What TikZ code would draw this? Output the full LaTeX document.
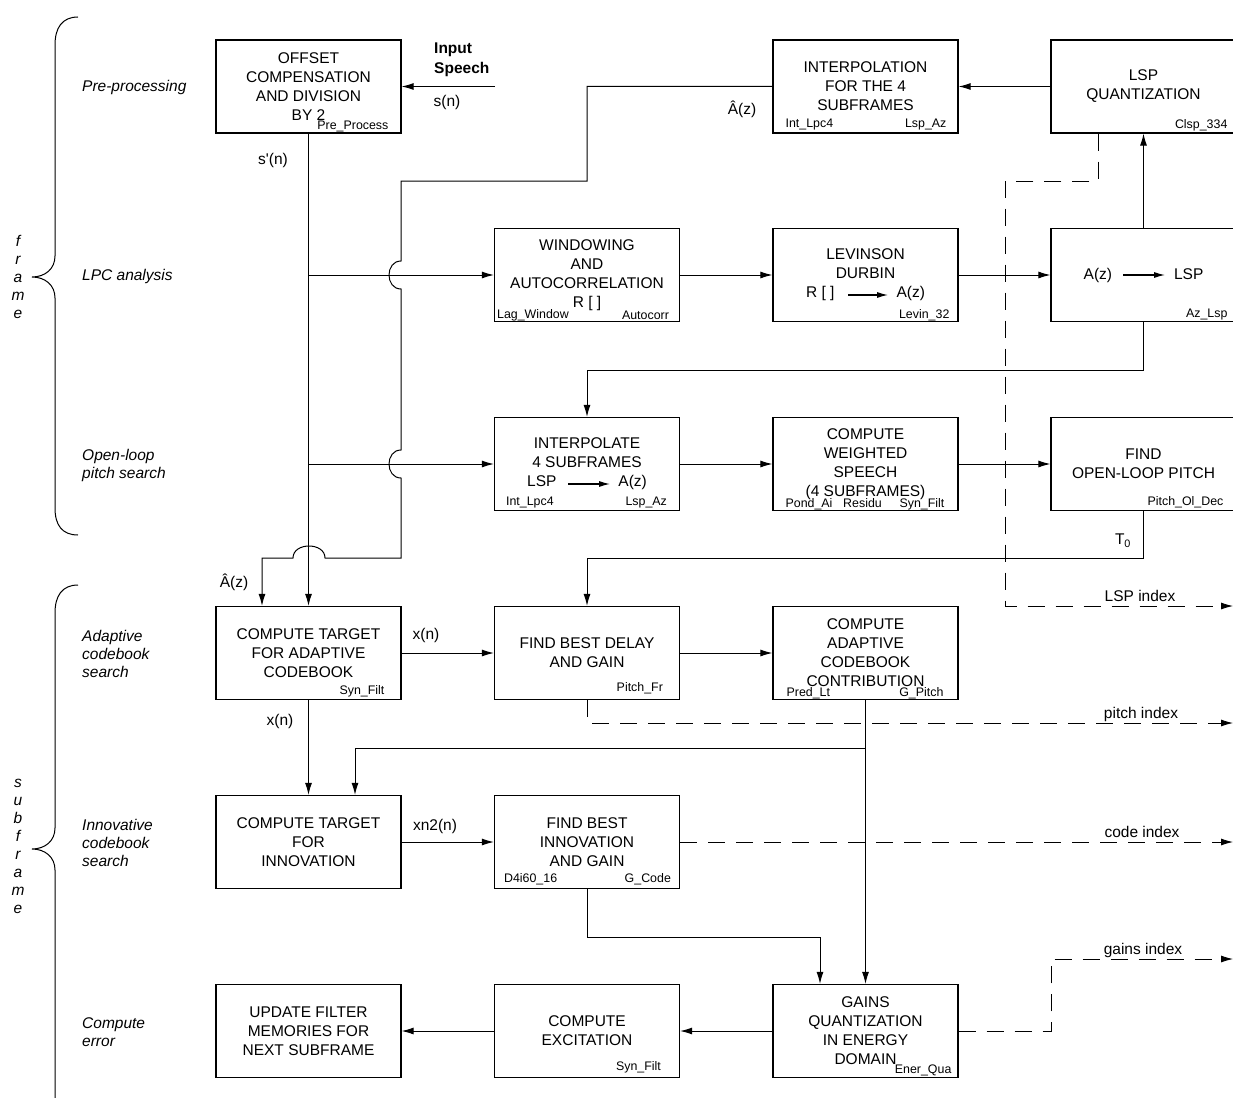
\documentclass[tikz,border=0pt]{standalone}
\usepackage{fontspec}
\setmainfont{Liberation Sans}
\usetikzlibrary{arrows.meta}

\begin{document}
\begin{tikzpicture}[x=1pt,y=-1pt,
  blk/.style={draw,line width=1.2pt,minimum width=185pt,minimum height=93pt,inner sep=0pt,align=center,font=\fontsize{15.5}{19}\selectfont},
  tag/.style={inner sep=0pt,font=\fontsize{12.4}{14}\selectfont},
  lbl/.style={inner sep=0pt,font=\fontsize{15.5}{19}\selectfont},
  side/.style={inner sep=0pt,align=left,font=\fontsize{15.5}{18}\selectfont\itshape},
  arr/.style={line width=1pt,-{Latex[length=12pt,width=7pt]}},
  inarr/.style={line width=1.1pt,-{Latex[length=11pt,width=6pt]}},
  dsh/.style={arr,line width=0.8pt,dash pattern=on 17pt off 11pt}]
  \useasboundingbox (0,0) rectangle (1233,1097);
  \clip (0,0) rectangle (1233,1097);

  % side labels and braces
  \draw[line width=1pt] (78,17) .. controls (62,17) and (55,28) .. (55,45) -- (55,256)
    .. controls (55,269) and (45,277) .. (32,277) .. controls (45,277) and (55,285) .. (55,298)
    -- (55,508) .. controls (55,525) and (62,535) .. (78,535);
  \draw[line width=1pt] (78,585) .. controls (62,585) and (55,596) .. (55,613) -- (55,828)
    .. controls (55,841) and (45,849) .. (32,849) .. controls (45,849) and (55,857) .. (55,870)
    -- (55,1120);
  \node[side,align=center] (frm) at (18,277) {f\\r\\a\\m\\e};
  \node[side,align=center] (sfrm) at (18,846) {s\\u\\b\\f\\r\\a\\m\\e};
  \node[side,anchor=west] (lpre) at (82,87) {Pre-processing};
  \node[side,anchor=west] (llpc) at (82,276) {LPC analysis};
  \node[side,anchor=west] (lolp) at (82,465) {Open-loop\\pitch search};
  \node[side,anchor=west] (lacb) at (82,654) {Adaptive\\codebook\\search};
  \node[side,anchor=west] (licb) at (82,843) {Innovative\\codebook\\search};
  \node[side,anchor=west] (lerr) at (82,1032) {Compute\\error};

  % blocks
  \node[blk] (pre) at (308.5,86.5) {OFFSET\\COMPENSATION\\AND DIVISION\\BY 2};
  \node[blk] (interp) at (865.5,86.5) {INTERPOLATION\\FOR THE 4\\SUBFRAMES};
  \node[blk] (lspq) at (1143.5,86.5) {LSP\\QUANTIZATION};
  \node[blk] (win) at (587,275) {WINDOWING\\AND\\AUTOCORRELATION\\R [ ]};
  \node[blk] (lev) at (865.5,275) {LEVINSON\\DURBIN\\R [ ]\hspace{62pt}A(z)};
  \node[blk] (azlsp) at (1143.5,275) {A(z)\hspace{62pt}LSP};
  \node[blk] (intlsp) at (587,464) {INTERPOLATE\\4 SUBFRAMES\\LSP\hspace{62pt}A(z)};
  \node[blk] (wsp) at (865.5,464) {COMPUTE\\WEIGHTED\\SPEECH\\(4 SUBFRAMES)};
  \node[blk] (olp) at (1143.5,464) {FIND\\OPEN-LOOP PITCH};
  \node[blk] (tgta) at (308.5,653) {COMPUTE TARGET\\FOR ADAPTIVE\\CODEBOOK};
  \node[blk] (delay) at (587,653) {FIND BEST DELAY\\AND GAIN};
  \node[blk] (acb) at (865.5,653) {COMPUTE\\ADAPTIVE\\CODEBOOK\\CONTRIBUTION};
  \node[blk] (tgti) at (308.5,842) {COMPUTE TARGET\\FOR\\INNOVATION};
  \node[blk] (inno) at (587,842) {FIND BEST\\INNOVATION\\AND GAIN};
  \node[blk] (upd) at (308.5,1031) {UPDATE FILTER\\MEMORIES FOR\\NEXT SUBFRAME};
  \node[blk] (exc) at (587,1031) {COMPUTE\\EXCITATION};
  \node[blk] (gain) at (865.5,1031) {GAINS\\QUANTIZATION\\IN ENERGY\\DOMAIN};

  \draw[inarr] ([xshift=-17.5pt,yshift=-20pt]lev.center) -- ++(40,0);
  \draw[inarr] ([xshift=-20.5pt]azlsp.center) -- ++(42,0);
  \draw[inarr] ([xshift=-19pt,yshift=-20pt]intlsp.center) -- ++(42,0);

  % routine names
  \node[tag,anchor=base east] (tpre) at ([xshift=-13pt,yshift=4pt]pre.south east) {Pre\_Process};
  \node[tag,anchor=base west] (tint1) at ([xshift=13pt,yshift=6pt]interp.south west) {Int\_Lpc4};
  \node[tag,anchor=base east] (tint2) at ([xshift=-12pt,yshift=6pt]interp.south east) {Lsp\_Az};
  \node[tag,anchor=base east] (tlspq) at ([xshift=-9pt,yshift=5pt]lspq.south east) {Clsp\_334};
  \node[tag,anchor=base west] (twin1) at ([xshift=3pt,yshift=4pt]win.south west) {Lag\_Window};
  \node[tag,anchor=base east] (twin2) at ([xshift=-11pt,yshift=3pt]win.south east) {Autocorr};
  \node[tag,anchor=base east] (tlev) at ([xshift=-9pt,yshift=4pt]lev.south east) {Levin\_32};
  \node[tag,anchor=base east] (tazlsp) at ([xshift=-9pt,yshift=5pt]azlsp.south east) {Az\_Lsp};
  \node[tag,anchor=base west] (tils1) at ([xshift=12pt,yshift=6pt]intlsp.south west) {Int\_Lpc4};
  \node[tag,anchor=base east] (tils2) at ([xshift=-13pt,yshift=6pt]intlsp.south east) {Lsp\_Az};
  \node[tag,anchor=base west] (twsp1) at ([xshift=13pt,yshift=4pt]wsp.south west) {Pond\_Ai};
  \node[tag,anchor=base] (twsp2) at ([xshift=-3pt,yshift=4pt]wsp.south) {Residu};
  \node[tag,anchor=base east] (twsp3) at ([xshift=-14pt,yshift=4pt]wsp.south east) {Syn\_Filt};
  \node[tag,anchor=base east] (tolp) at ([xshift=-13pt,yshift=6pt]olp.south east) {Pitch\_Ol\_Dec};
  \node[tag,anchor=base east] (ttgta) at ([xshift=-17pt,yshift=6pt]tgta.south east) {Syn\_Filt};
  \node[tag,anchor=base east] (tdelay) at ([xshift=-17pt,yshift=9pt]delay.south east) {Pitch\_Fr};
  \node[tag,anchor=base west] (tacb1) at ([xshift=14pt,yshift=4pt]acb.south west) {Pred\_Lt};
  \node[tag,anchor=base east] (tacb2) at ([xshift=-15pt,yshift=4pt]acb.south east) {G\_Pitch};
  \node[tag,anchor=base west] (tinno1) at ([xshift=10pt,yshift=7pt]inno.south west) {D4i60\_16};
  \node[tag,anchor=base east] (tinno2) at ([xshift=-9pt,yshift=7pt]inno.south east) {G\_Code};
  \node[tag,anchor=base east] (texc) at ([xshift=-19pt,yshift=8pt]exc.south east) {Syn\_Filt};
  \node[tag,anchor=base east] (tgain) at ([xshift=-7pt,yshift=5pt]gain.south east) {Ener\_Qua};

  % signal labels
  \node[lbl,anchor=west,align=left,font=\fontsize{15.5}{20}\selectfont\bfseries] (insp) at (434,60) {Input\\Speech};
  \node[lbl] (ls) at (447,102) {s(n)};
  \node[lbl] (lsp) at (273,160) {s\textquotesingle(n)};
  \node[lbl] (lah1) at (742,109) {Â(z)};
  \node[lbl] (lah2) at (234,582) {Â(z)};
  \node[lbl] (lt0) at (1123,541) {T\textsubscript{0}};
  \node[lbl] (lx1) at (426,635) {x(n)};
  \node[lbl] (lx2) at (280,721) {x(n)};
  \node[lbl] (lxn2) at (435,826) {xn2(n)};
  \node[lbl] (llspi) at (1140,596) {LSP index};
  \node[lbl] (lpiti) at (1141,714) {pitch index};
  \node[lbl] (lcodi) at (1142,832) {code index};
  \node[lbl] (lgaii) at (1143,950) {gains index};

  \coordinate (spin) at (495,86.5);
  \coordinate (lspidx) at (1233,606);
  \coordinate (pitidx) at (1233,723);
  \coordinate (codidx) at (1233,842);
  \coordinate (gaiidx) at (1233,959);

  % connectors
  \draw[arr] (spin) -- (pre);
  \draw[arr] (pre.south) -- (tgta.north);
  \draw[arr] (pre.south |- win.west) -- (win.west);
  \draw[arr] (pre.south |- intlsp.west) -- (intlsp.west);
  \draw[arr] (interp.west) -| (587,181) -- (401,181) -- (401,261)
    .. controls (385,261) and (385,289) .. (401,289) -- (401,450)
    .. controls (385,450) and (385,478) .. (401,478) -- (401,558) -- (325,558)
    .. controls (325,542) and (293,542) .. (293,558) -| ([xshift=-46.5pt]tgta.north);
  \draw[arr] (lspq) -- (interp);
  \draw[arr] (win) -- (lev);
  \draw[arr] (lev) -- (azlsp);
  \draw[arr] (azlsp) -- (lspq);
  \draw[arr] (azlsp.south) -- ([yshift=-48pt]azlsp.south) -| (intlsp.north);
  \draw[arr] (intlsp) -- (wsp);
  \draw[arr] (wsp) -- (olp);
  \draw[arr] (olp.south) -- ([yshift=-47pt]olp.south) -| (delay.north);
  \draw[arr] (tgta) -- (delay);
  \draw[arr] (delay) -- (acb);
  \draw[arr] (tgta) -- (tgti);
  \draw[arr] (acb) -- (gain);
  \draw[arr] ([yshift=-48pt]acb.south) -| ([xshift=46.5pt]tgti.north);
  \draw[arr] (tgti) -- (inno);
  \draw[arr] (inno.south) -- ([yshift=-48pt]inno.south) -| ([xshift=-45.5pt]gain.north);
  \draw[arr] (gain) -- (exc);
  \draw[arr] (exc) -- (upd);

  % indices
  \draw[dsh] ([xshift=-45.5pt]lspq.south) |- (1005,181) |- (lspidx);
  \draw[dsh] (delay.south) |- (pitidx);
  \draw[dsh] (inno) -- (codidx);
  \draw[dsh] (gain.east) -| (1051,959) -- (gaiidx);
\end{tikzpicture}
\end{document}
